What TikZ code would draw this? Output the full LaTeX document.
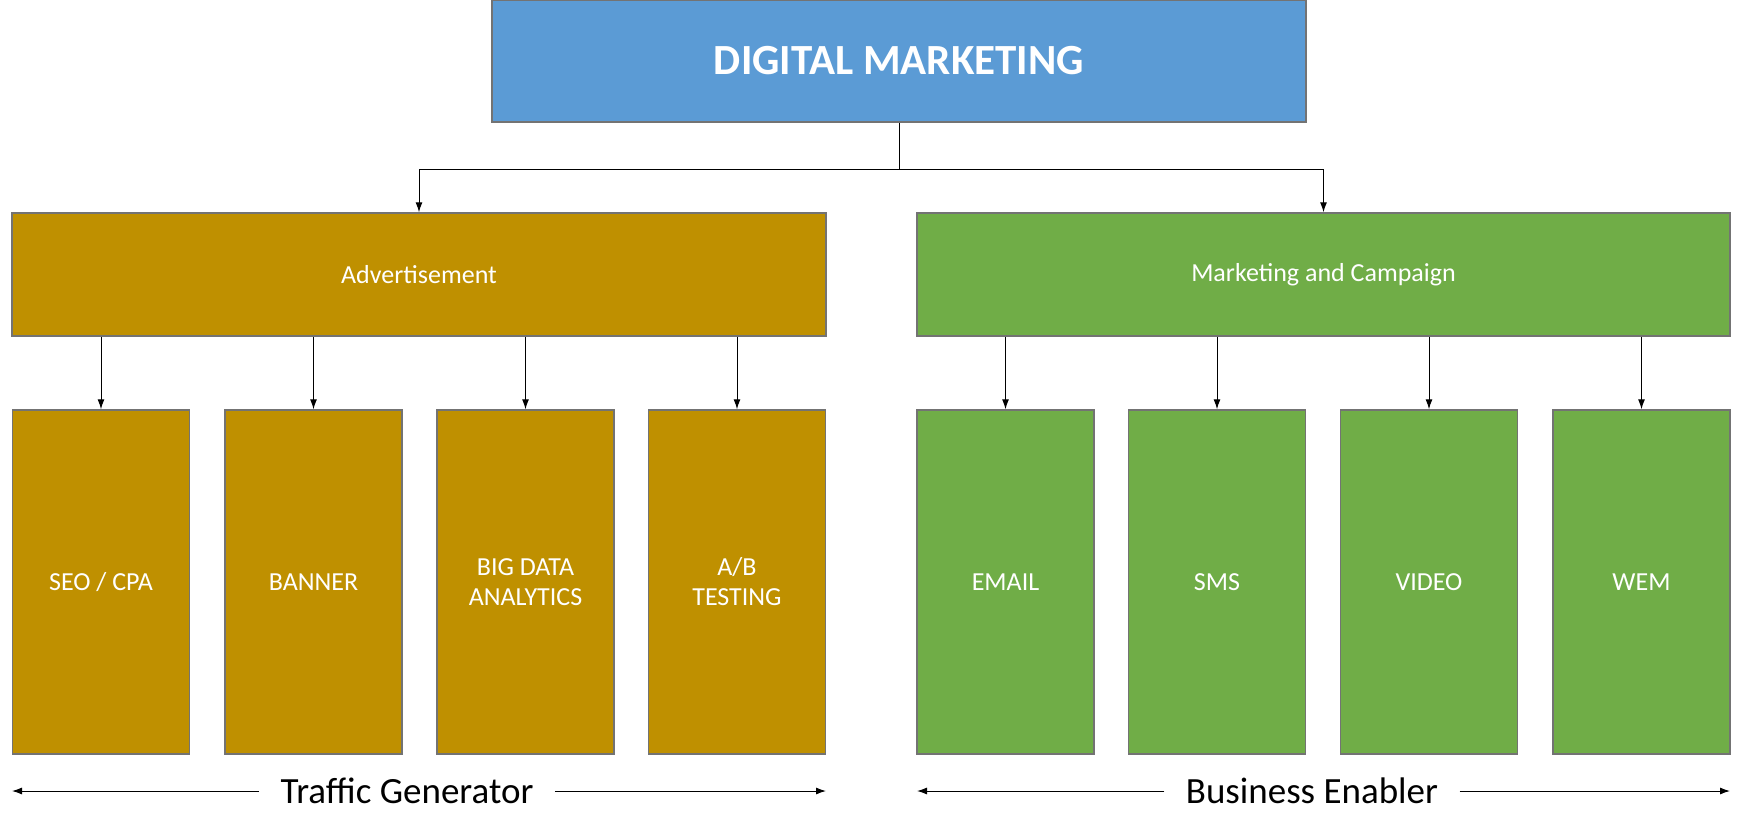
\documentclass[tikz,border=0pt]{standalone}
\usepackage{fontspec}
\setmainfont{Carlito}
\usetikzlibrary{arrows.meta}
\definecolor{topblue}{HTML}{5B9BD5}
\definecolor{adgold}{HTML}{BF9000}
\definecolor{mkgreen}{HTML}{70AD47}
\begin{document}
\begin{tikzpicture}[x=1pt,y=-1pt]
        \tikzset{box/.style = {draw=gray!90!black,line width=1.5pt,text=white,align=center}}
        \tikzset{edge/.style = {-{Latex[length=10pt,width=7pt]},line width=1pt}}
        \useasboundingbox (0,0) rectangle (1743,836);
        \node[box,fill=topblue,minimum width=814pt,minimum height=122pt,font=\fontsize{43}{48}\selectfont\bfseries] (dm) at (899,61) {DIGITAL MARKETING};
        \node[box,fill=adgold,minimum width=814pt,minimum height=123pt,font=\fontsize{26}{30}\selectfont] (ad) at (419,274.5) {Advertisement};
        \node[box,fill=mkgreen,minimum width=813pt,minimum height=123pt,font=\fontsize{26}{30}\selectfont] (mc) at (1323.5,274.5) {Marketing and Campaign};
        \foreach \n/\x/\t/\c in {seo/101/{SEO / CPA}/adgold, ban/313.5/{BANNER}/adgold, big/525.5/{BIG DATA\\ANALYTICS}/adgold, ab/737/{A/B\\TESTING}/adgold,
          em/1005.5/{EMAIL}/mkgreen, sms/1217/{SMS}/mkgreen, vid/1429/{VIDEO}/mkgreen, wem/1641.5/{WEM}/mkgreen}
          \node[box,fill=\c,minimum width=177pt,minimum height=344pt,font=\fontsize{26}{30}\selectfont] (\n) at (\x,582) {\t};
        \coordinate (split) at (899,169);
        \draw[line width=1pt] (dm.south) -- (split);
        \draw[edge] (split) -| (ad.north);
        \draw[edge] (split) -| (mc.north);
        \foreach \n in {seo,ban,big,ab}
          \draw[edge] (ad.south -| \n.north) -- (\n.north);
        \foreach \n in {em,sms,vid,wem}
          \draw[edge] (mc.south -| \n.north) -- (\n.north);
        \node[font=\fontsize{37}{42}\selectfont] (tg) at (407,791) {Traffic Generator};
        \node[font=\fontsize{37}{42}\selectfont] (be) at (1312,791) {Business Enabler};
        \coordinate (tgl) at (12,791); \coordinate (tgr) at (826,791);
        \coordinate (bel) at (917,791); \coordinate (ber) at (1730,791);
        \draw[edge] ([xshift=-18pt]tg.west) -- (tgl);
        \draw[edge] ([xshift=18pt]tg.east) -- (tgr);
        \draw[edge] ([xshift=-18pt]be.west) -- (bel);
        \draw[edge] ([xshift=18pt]be.east) -- (ber);
\end{tikzpicture}
\end{document}
